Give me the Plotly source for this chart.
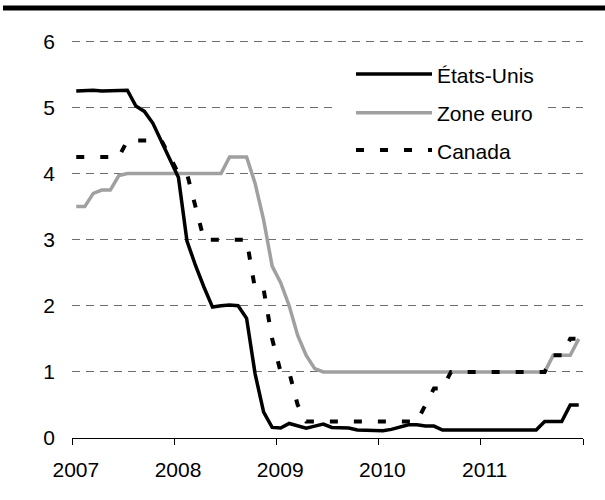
import plotly.graph_objects as go

# Policy rates, monthly, Jan 2007 - Dec 2011 (%)
years = ["2007", "2008", "2009", "2010", "2011"]

us_rate = [
    5.25, 5.26, 5.26, 5.25, 5.25, 5.25, 5.26, 5.02, 4.94, 4.76, 4.49, 4.24,
    3.94, 2.98, 2.61, 2.28, 1.98, 2.00, 2.01, 2.00, 1.81, 0.97, 0.39, 0.16,
    0.15, 0.22, 0.18, 0.15, 0.18, 0.21, 0.16, 0.16, 0.15, 0.12, 0.12, 0.12,
    0.11, 0.13, 0.16, 0.20, 0.20, 0.18, 0.18, 0.12, 0.12, 0.12, 0.12, 0.12,
    0.12, 0.12, 0.12, 0.12, 0.12, 0.12, 0.12, 0.25, 0.25, 0.25, 0.50, 0.50,
]
euro_rate = [
    3.50, 3.50, 3.70, 3.75, 3.75, 3.97, 4.00, 4.00, 4.00, 4.00, 4.00, 4.00,
    4.00, 4.00, 4.00, 4.00, 4.00, 4.00, 4.25, 4.25, 4.25, 3.85, 3.30, 2.60,
    2.35, 2.00, 1.55, 1.25, 1.05, 1.00, 1.00, 1.00, 1.00, 1.00, 1.00, 1.00,
    1.00, 1.00, 1.00, 1.00, 1.00, 1.00, 1.00, 1.00, 1.00, 1.00, 1.00, 1.00,
    1.00, 1.00, 1.00, 1.00, 1.00, 1.00, 1.00, 1.00, 1.25, 1.25, 1.25, 1.50,
]
canada_rate = [
    4.25, 4.25, 4.25, 4.25, 4.25, 4.25, 4.50, 4.50, 4.50, 4.50, 4.50, 4.25,
    4.00, 4.00, 3.50, 3.00, 3.00, 3.00, 3.00, 3.00, 3.00, 2.25, 2.25, 1.50,
    1.00, 1.00, 0.50, 0.25, 0.25, 0.25, 0.25, 0.25, 0.25, 0.25, 0.25, 0.25,
    0.25, 0.25, 0.25, 0.25, 0.25, 0.50, 0.75, 0.75, 1.00, 1.00, 1.00, 1.00,
    1.00, 1.00, 1.00, 1.00, 1.00, 1.00, 1.00, 1.00, 1.25, 1.25, 1.50, 1.50,
]
series_names = ["États-Unis", "Zone euro", "Canada"]

GRAY = "#a0a0a0"
FONT = "Liberation Sans, Arial, sans-serif"

# plot area in pixels
L, R, T, B = 72, 22, 40, 62
W, H = 605, 500
PW, PH = W - L - R, H - T - B


def px_x(px):
    return (px - L) / PW


def px_y(py):
    return (H - B - py) / PH


months = [m + 0.5 for m in range(len(us_rate))]

fig = go.Figure()
fig.add_trace(go.Scatter(x=months, y=euro_rate, mode="lines", name=series_names[1],
                         line=dict(color=GRAY, width=3.5)))
fig.add_trace(go.Scatter(x=months, y=us_rate, mode="lines", name=series_names[0],
                         line=dict(color="black", width=3.5)))
fig.add_trace(go.Scatter(x=months, y=canada_rate, mode="lines", name=series_names[2],
                         line=dict(color="black", width=4, dash="8px,16px")))

# top rule
shapes = [dict(type="line", xref="paper", yref="paper",
               x0=px_x(3), x1=px_x(605), y0=px_y(8), y1=px_y(8),
               line=dict(color="black", width=5))]

# manual legend (long line samples on a white box)
shapes.append(dict(type="rect", xref="paper", yref="paper", layer="above",
                   x0=px_x(335), x1=px_x(545), y0=px_y(165), y1=px_y(58),
                   fillcolor="white", line=dict(width=0)))
legend_styles = [
    dict(color="black", width=3.5),
    dict(color=GRAY, width=3.5),
    dict(color="black", width=4, dash="8px,16px"),
]
legend_y = [74, 112.7, 150]
annotations = []
for name, style, ly in zip(series_names, legend_styles, legend_y):
    shapes.append(dict(type="line", xref="paper", yref="paper", layer="above",
                       x0=px_x(356), x1=px_x(432), y0=px_y(ly), y1=px_y(ly), line=style))
    annotations.append(dict(xref="paper", yref="paper", x=px_x(435), y=px_y(ly + 1),
                            text=name, showarrow=False, xanchor="left", yanchor="middle",
                            font=dict(size=21, color="black", family=FONT)))

fig.update_layout(
    width=W,
    height=H,
    margin=dict(l=L, r=R, t=T, b=B),
    plot_bgcolor="white",
    paper_bgcolor="white",
    showlegend=False,
    font=dict(family=FONT, size=21, color="black"),
    shapes=shapes,
    annotations=annotations,
    xaxis=dict(
        range=[0, 60],
        tickmode="array",
        tickvals=[12 * i + 0.45 for i in range(len(years))],
        ticktext=years,
        ticks="",
        showline=True,
        linecolor="black",
        linewidth=1,
        showgrid=False,
        zeroline=False,
        ticklabelstandoff=13,
        minor=dict(tickmode="array", tickvals=[12 * i for i in range(6)],
                   ticks="outside", ticklen=6, tickcolor="black", tickwidth=1,
                   showgrid=False),
    ),
    yaxis=dict(
        # a hair above 6 so plotly keeps the top gridline
        range=[0, 6.02],
        tickmode="array",
        tickvals=list(range(7)),
        ticks="",
        showline=False,
        showgrid=True,
        gridcolor="#6e6e6e",
        gridwidth=1,
        griddash="8px,6px",
        zeroline=False,
        ticklabelstandoff=16,
    ),
)

# page has no body margin so the figure fills the window
fig.write_html("out.html", config={"displayModeBar": False},
               post_script="document.body.style.margin='0';")
